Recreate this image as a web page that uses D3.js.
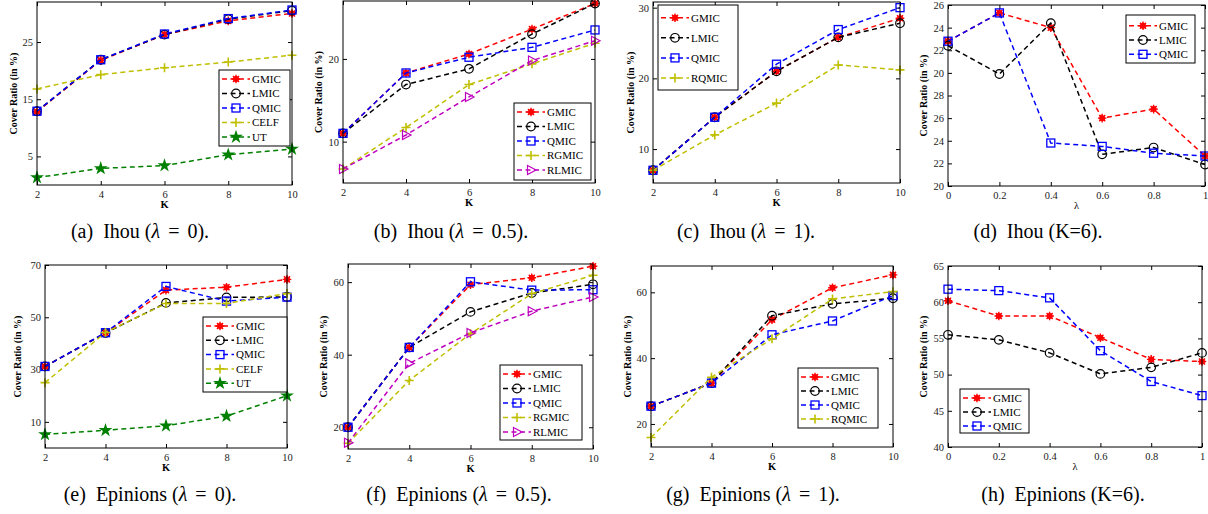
<!DOCTYPE html>
<html>
<head>
<meta charset="utf-8">
<script src="https://cdn.jsdelivr.net/npm/d3@7"></script>
<style>
  body { margin: 0; background: #fff; }
  svg, svg text { font-family: "Liberation Serif", "Times New Roman", serif; }
  svg { display: block; }
</style>
</head>
<body>
<svg id="fig" width="1208" height="514"></svg>
<script>
// x values
const K_VALUES = [2, 4, 6, 8, 10];
const LAMBDA_VALUES = [0, 0.2, 0.4, 0.6, 0.8, 1];

// cover ratio (in %)
const ihouL0 = {
  GMIC: [12.8, 21.8, 26.3, 28.7, 30.0],
  LMIC: [12.9, 21.9, 26.3, 29.0, 30.5],
  QMIC: [12.9, 21.9, 26.4, 29.1, 30.6],
  CELF: [16.8, 19.3, 20.5, 21.5, 22.7],
  UT:   [1.3, 2.9, 3.4, 5.3, 6.3]
};
const ihouL05 = {
  GMIC:  [11.0, 18.3, 20.6, 23.6, 26.7],
  LMIC:  [11.0, 16.9, 18.8, 23.0, 26.7],
  QMIC:  [11.0, 18.3, 20.2, 21.4, 23.5],
  RGMIC: [6.7, 11.7, 16.9, 19.4, 21.9],
  RLMIC: [6.7, 10.8, 15.4, 19.8, 22.2]
};
const ihouL1 = {
  GMIC:  [7.0, 14.5, 21.0, 25.8, 28.5],
  LMIC:  [7.0, 14.5, 21.0, 25.8, 27.8],
  QMIC:  [7.0, 14.5, 22.0, 26.9, 30.0],
  RQMIC: [7.0, 12.0, 16.5, 21.9, 21.2]
};
const ihouK6 = {
  GMIC: [32.8, 35.3, 34.0, 26.0, 26.8, 22.65],
  LMIC: [32.4, 29.9, 34.4, 22.8, 23.4, 21.9],
  QMIC: [32.8, 35.3, 23.8, 23.5, 22.9, 22.65]
};
const epinionsL0 = {
  GMIC: [31.2, 44.0, 60.4, 61.5, 64.5],
  LMIC: [31.2, 44.0, 55.5, 57.6, 57.8],
  QMIC: [31.2, 44.1, 61.8, 56.2, 57.7],
  CELF: [25.0, 44.2, 55.3, 55.3, 59.1],
  UT:   [5.2, 6.8, 8.5, 12.2, 20.0]
};
const epinionsL05 = {
  GMIC:  [20.0, 42.0, 59.3, 61.2, 64.4],
  LMIC:  [20.0, 42.0, 51.8, 57.0, 59.4],
  QMIC:  [20.0, 42.0, 60.1, 57.8, 57.9],
  RGMIC: [15.6, 32.9, 45.8, 56.8, 61.9],
  RLMIC: [15.7, 37.6, 46.0, 52.0, 55.9]
};
const epinionsL1 = {
  GMIC:  [25.4, 32.4, 51.7, 61.4, 65.3],
  LMIC:  [25.4, 32.4, 52.9, 56.5, 58.2],
  QMIC:  [25.4, 32.4, 47.1, 51.3, 59.0],
  RQMIC: [15.9, 34.2, 45.9, 58.0, 60.2]
};
const epinionsK6 = {
  GMIC: [60.2, 58.1, 58.1, 55.1, 52.1, 51.8],
  LMIC: [55.5, 54.8, 53.0, 50.1, 51.0, 53.0],
  QMIC: [61.8, 61.6, 60.6, 53.3, 49.05, 47.1]
};

// tick values / labels
const TICKS_A = [5, 15, 25];
const TICKS_B = [10, 20];
const TICKS_C = [10, 20, 30];
const TICKS_D = [20, 22, 24, 26, 28, 30, 32, 34, 36];
const TICK_LABELS_D = ["20", "22", "24", "26", "28", "20", "22", "24", "26"]; // as printed
const TICKS_E = [10, 30, 50, 70];
const TICKS_FG = [20, 40, 60];
const TICKS_H = [40, 45, 50, 55, 60, 65];

const STYLE = {
  GMIC:  { color: '#ff0000', marker: 'asterisk' },
  LMIC:  { color: '#000000', marker: 'circle' },
  QMIC:  { color: '#0000ff', marker: 'square' },
  CELF:  { color: '#bfbf00', marker: 'plus' },
  RGMIC: { color: '#bfbf00', marker: 'plus' },
  RQMIC: { color: '#bfbf00', marker: 'plus' },
  UT:    { color: '#008000', marker: 'star' },
  RLMIC: { color: '#bf00bf', marker: 'triangle' }
};

const panels = [
  { data: ihouL0, xs: K_VALUES, xDomain: [2, 10], xLabel: 'K', box: [37, 2, 292, 185],
    yDomain: [0, 32], yTicks: TICKS_A, ylabX: 13,
    legend: { x: 219, y: 70, w: 71, h: 76, first: 79, step: 14.5 },
    tag: '(a)', caption: 'Ihou (λ = 0).', capX: 140, capY: 231 },
  { data: ihouL05, xs: K_VALUES, xDomain: [2, 10], xLabel: 'K', box: [343, 1, 595, 183],
    yDomain: [5, 27], yTicks: TICKS_B, ylabX: 318,
    legend: { x: 514, y: 103, w: 77, h: 77, first: 112, step: 14.5 },
    tag: '(b)', caption: 'Ihou (λ = 0.5).', capX: 451, capY: 231 },
  { data: ihouL1, xs: K_VALUES, xDomain: [2, 10], xLabel: 'K', box: [653, 2, 900, 183],
    yDomain: [5.2, 30.8], yTicks: TICKS_C, ylabX: 630,
    legend: { x: 658, y: 5, w: 80, h: 85, first: 17.7, step: 20.1 },
    tag: '(c)', caption: 'Ihou (λ = 1).', capX: 746, capY: 231 },
  { data: ihouK6, xs: LAMBDA_VALUES, xDomain: [0, 1], xLabel: 'λ', box: [948, 5, 1205, 186],
    yDomain: [20, 36], yTicks: TICKS_D, yTickLabels: TICK_LABELS_D, ylabX: 923,
    legend: { x: 1126, y: 15, w: 69, h: 48, first: 25.7, step: 14.3 },
    tag: '(d)', caption: 'Ihou (K=6).', capX: 1038, capY: 231 },
  { data: epinionsL0, xs: K_VALUES, xDomain: [2, 10], xLabel: 'K', box: [45, 265, 287, 448],
    yDomain: [0, 70], yTicks: TICKS_E, ylabX: 17,
    legend: { x: 203, y: 317, w: 84, h: 75, first: 326, step: 14.3 },
    tag: '(e)', caption: 'Epinions (λ = 0).', capX: 150, capY: 494 },
  { data: epinionsL05, xs: K_VALUES, xDomain: [2, 10], xLabel: 'K', box: [348, 264, 593, 449],
    yDomain: [14, 65], yTicks: TICKS_FG, ylabX: 323,
    legend: { x: 500, y: 365, w: 82, h: 75, first: 374, step: 14.5 },
    tag: '(f)', caption: 'Epinions (λ = 0.5).', capX: 459, capY: 494 },
  { data: epinionsL1, xs: K_VALUES, xDomain: [2, 10], xLabel: 'K', box: [651, 266, 893, 447],
    yDomain: [13, 68], yTicks: TICKS_FG, ylabX: 627,
    legend: { x: 798, y: 368, w: 80, h: 60, first: 377, step: 14 },
    tag: '(g)', caption: 'Epinions (λ = 1).', capX: 753, capY: 494 },
  { data: epinionsK6, xs: LAMBDA_VALUES, xDomain: [0, 1], xLabel: 'λ', box: [948, 266, 1202, 447],
    yDomain: [40, 65], yTicks: TICKS_H, ylabX: 923,
    legend: { x: 960, y: 389, w: 69, h: 44, first: 398, step: 14 },
    tag: '(h)', caption: 'Epinions (K=6).', capX: 1063, capY: 494 }
];

const svg = d3.select('#fig');
const SERIF = '"Liberation Serif", "Times New Roman", serif';

function drawMarker(g, type, color, x, y) {
  const m = g.append('g').attr('transform', `translate(${x},${y})`);
  if (type == 'asterisk') {
    m.append('circle').attr('r', 3).attr('fill', color);
    const r = 4.3;
    const p = d3.path();
    [0, 45, 90, 135].forEach(a => {
      const t = a * Math.PI / 180;
      p.moveTo(-r * Math.cos(t), -r * Math.sin(t));
      p.lineTo(r * Math.cos(t), r * Math.sin(t));
    });
    m.append('path').attr('d', p.toString()).attr('stroke', color).attr('stroke-width', 1.4);
  } else if (type == 'circle') {
    m.append('circle').attr('r', 4.3).attr('fill', 'none').attr('stroke', color).attr('stroke-width', 1.2);
  } else if (type == 'square') {
    m.append('rect').attr('x', -4).attr('y', -4).attr('width', 8).attr('height', 8)
      .attr('fill', 'none').attr('stroke', color).attr('stroke-width', 1.3);
  } else if (type == 'plus') {
    m.append('path').attr('d', 'M-4.5,0H4.5M0,-4.5V4.5').attr('stroke', color).attr('stroke-width', 1.6);
  } else if (type == 'star') {
    m.append('path').attr('d', d3.symbol(d3.symbolStar, 60)()).attr('fill', color);
  } else if (type == 'triangle') {
    m.append('path').attr('d', 'M-3.5,-4.5L5,0L-3.5,4.5Z').attr('fill', 'none')
      .attr('stroke', color).attr('stroke-width', 1.2);
  }
}

panels.forEach(p => {
  const [x0, y0, x1, y1] = p.box;
  const x = d3.scaleLinear().domain(p.xDomain).range([x0, x1]);
  const y = d3.scaleLinear().domain(p.yDomain).range([y1, y0]);
  const g = svg.append('g');

  g.append('rect').attr('x', x0).attr('y', y0).attr('width', x1 - x0).attr('height', y1 - y0)
    .attr('fill', '#fff');

  const yFmt = p.yTickLabels ? ((d, i) => p.yTickLabels[i]) : d3.format('');
  const ax = [
    g.append('g').attr('transform', `translate(0,${y1})`)
      .call(d3.axisBottom(x).tickValues(p.xs).tickSizeInner(-4).tickSizeOuter(0).tickPadding(6).tickFormat(d3.format(''))),
    g.append('g').attr('transform', `translate(0,${y0})`)
      .call(d3.axisTop(x).tickValues(p.xs).tickSizeInner(-4).tickSizeOuter(0).tickFormat('')),
    g.append('g').attr('transform', `translate(${x0},0)`)
      .call(d3.axisLeft(y).tickValues(p.yTicks).tickSizeInner(-4).tickSizeOuter(0).tickPadding(4).tickFormat(yFmt)),
    g.append('g').attr('transform', `translate(${x1},0)`)
      .call(d3.axisRight(y).tickValues(p.yTicks).tickSizeInner(-4).tickSizeOuter(0).tickFormat(''))
  ];
  ax.forEach(a => {
    a.attr('font-family', SERIF);
    a.select('.domain').remove();
    a.selectAll('text').attr('font-size', 10.5).attr('fill', '#222');
    a.selectAll('line').attr('stroke', '#000');
  });

  // series
  const names = Object.keys(p.data);
  names.forEach(name => {
    const st = STYLE[name];
    const pts = p.data[name].map((v, i) => [p.xs[i], v]);
    g.append('path')
      .datum(pts)
      .attr('d', d3.line().x(d => x(d[0])).y(d => y(d[1])))
      .attr('fill', 'none')
      .attr('stroke', st.color)
      .attr('stroke-width', 1.5)
      .attr('stroke-dasharray', '5,3.5');
    pts.forEach(d => drawMarker(g, st.marker, st.color, x(d[0]), y(d[1])));
  });

  // frame
  g.append('rect').attr('x', x0).attr('y', y0).attr('width', x1 - x0).attr('height', y1 - y0)
    .attr('fill', 'none').attr('stroke', '#000').attr('stroke-width', 1);

  // legend
  const L = p.legend;
  const lg = g.append('g');
  lg.append('rect').attr('x', L.x).attr('y', L.y).attr('width', L.w).attr('height', L.h)
    .attr('fill', '#fff').attr('stroke', '#000').attr('stroke-width', 1);
  names.forEach((name, i) => {
    const st = STYLE[name];
    const ly = L.first + i * L.step;
    lg.append('line').attr('x1', L.x + 3).attr('x2', L.x + 31).attr('y1', ly).attr('y2', ly)
      .attr('stroke', st.color).attr('stroke-width', 1.5).attr('stroke-dasharray', '5,3.5');
    drawMarker(lg, st.marker, st.color, L.x + 17, ly);
    lg.append('text').attr('x', L.x + 33).attr('y', ly).attr('dy', '0.35em')
      .attr('font-family', SERIF).attr('font-size', 11).attr('fill', '#000').text(name);
  });

  // axis labels
  g.append('text')
    .attr('transform', `translate(${p.ylabX},${(y0 + y1) / 2}) rotate(-90)`)
    .attr('dy', '0.35em').attr('text-anchor', 'middle')
    .attr('font-family', SERIF).attr('font-size', 10).attr('font-weight', 'bold').attr('fill', '#000')
    .text('Cover Ratio (in %)');
  g.append('text')
    .attr('x', (x0 + x1) / 2).attr('y', y1 + 19).attr('dy', '0.35em')
    .attr('text-anchor', 'middle').attr('font-family', SERIF).attr('font-size', 10.5)
    .attr('font-weight', p.xLabel == 'K' ? 'bold' : 'normal').attr('fill', '#000')
    .text(p.xLabel);

  // caption: "(x)" tag, then text with math-style spacing around " = "
  const cap = g.append('text').attr('x', p.capX).attr('y', p.capY).attr('dy', '0.35em')
    .attr('text-anchor', 'middle').attr('font-family', SERIF).attr('font-size', 20).attr('fill', '#000');
  cap.append('tspan').text(p.tag);
  const parts = p.caption.split(' = ');
  const head = parts[0].split('λ');
  cap.append('tspan').attr('dx', '0.5em').text(head[0]);
  if (head.length > 1) cap.append('tspan').attr('font-style', 'italic').text('λ');
  if (parts.length > 1) {
    cap.append('tspan').attr('dx', '0.4em').text('=');
    cap.append('tspan').attr('dx', '0.4em').text(parts[1]);
  }
});
</script>
</body>
</html>
